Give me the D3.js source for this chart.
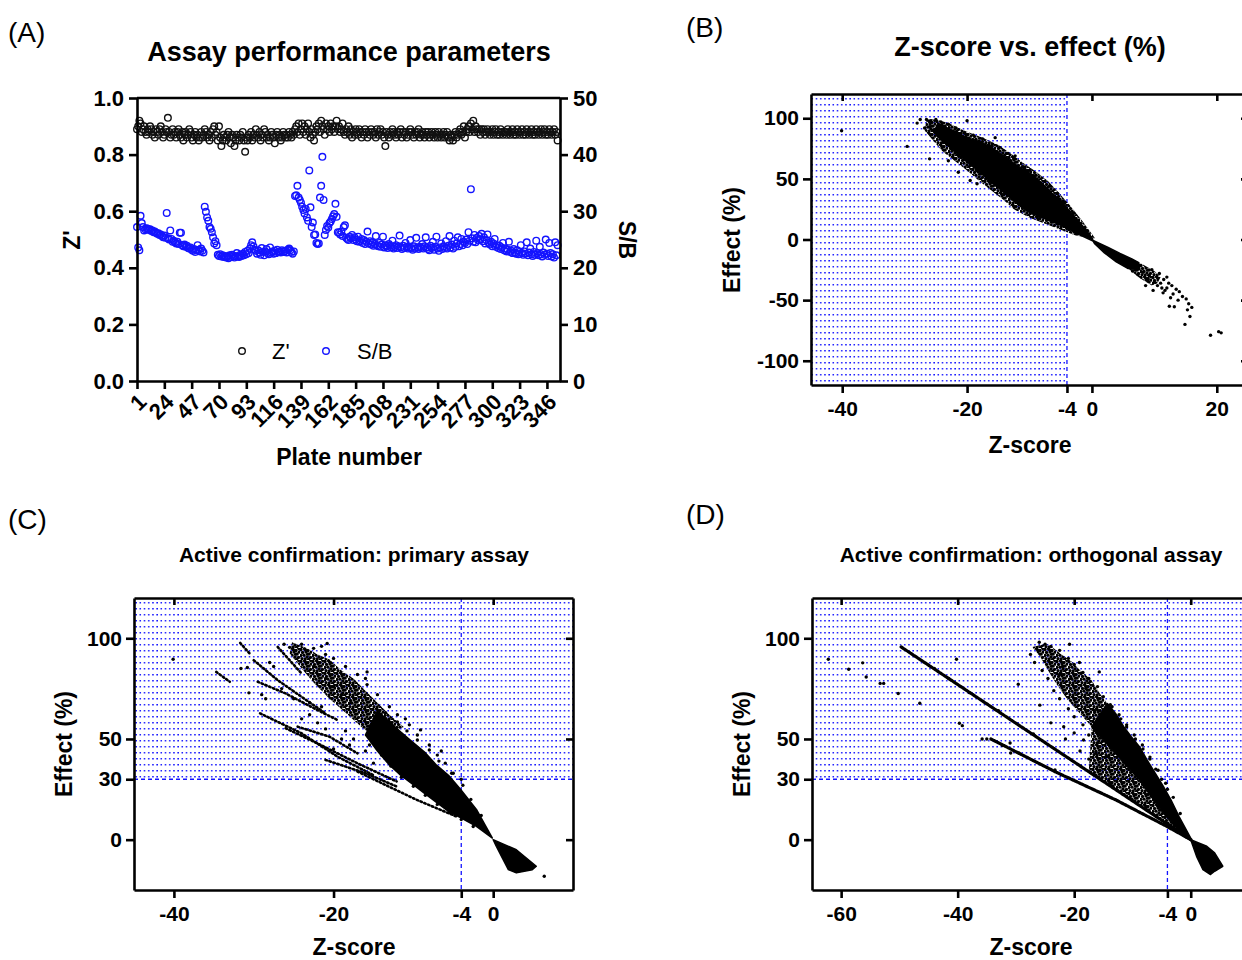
<!DOCTYPE html>
<html>
<head>
<meta charset="utf-8">
<script src="https://d3js.org/d3.v7.min.js"></script>
<style>
  body { margin: 0; background: #fff; }
  svg text { font-family: "Liberation Sans", Arial, sans-serif; fill: #000; }
</style>
</head>
<body>
<svg id="fig" width="1242" height="960"></svg>
<script>
// ---------- data: panel A (per plate) ----------
const zPrime = [
  .89,.90,.92,.91,.88,.89,.90,.88,.87,.89, .88,.90,.89,.87,.88,.86,.89,.88,.87,.89,
  .90,.88,.86,.87,.89,.88,.93,.88,.86,.87, .89,.87,.88,.86,.88,.89,.87,.86,.88,.85,
  .87,.88,.86,.87,.89,.88,.86,.85,.87,.88, .86,.87,.85,.86,.88,.86,.87,.89,.88,.86,
  .87,.85,.88,.86,.89,.90,.87,.88,.85,.90, .86,.83,.85,.87,.86,.85,.87,.88,.86,.84,
  .87,.86,.83,.85,.87,.86,.85,.87,.86,.88, .85,.81,.86,.85,.87,.86,.88,.85,.87,.86,
  .89,.87,.86,.88,.85,.87,.86,.89,.88,.86, .87,.85,.86,.88,.87,.86,.84,.87,.88,.86,
  .87,.85,.86,.88,.87,.86,.87,.86,.88,.87, .86,.88,.87,.89,.90,.88,.91,.87,.89,.91,
  .88,.90,.87,.89,.91,.88,.86,.89,.87,.85, .88,.90,.89,.91,.88,.92,.90,.89,.87,.91,
  .89,.90,.88,.91,.89,.90,.88,.90,.92,.89, .90,.88,.89,.91,.88,.87,.89,.88,.90,.87,
  .89,.86,.88,.87,.89,.88,.87,.89,.88,.86, .88,.87,.89,.88,.86,.88,.87,.89,.88,.87,
  .88,.86,.89,.87,.88,.89,.87,.88,.86,.83, .88,.87,.86,.88,.87,.89,.88,.87,.86,.88,
  .87,.88,.89,.86,.88,.87,.88,.86,.87,.88, .89,.88,.87,.86,.88,.87,.88,.89,.86,.87,
  .88,.87,.86,.88,.87,.88,.86,.87,.88,.87, .86,.88,.87,.86,.88,.87,.86,.87,.88,.86,
  .87,.88,.86,.85,.87,.86,.85,.87,.88,.86, .87,.88,.89,.87,.88,.90,.86,.88,.89,.90,
  .88,.91,.89,.92,.88,.90,.89,.88,.89,.87, .89,.88,.89,.87,.88,.89,.88,.87,.88,.89,
  .87,.88,.89,.87,.88,.87,.89,.88,.87,.88, .88,.87,.89,.88,.87,.88,.89,.87,.88,.87,
  .89,.88,.87,.88,.89,.87,.88,.87,.89,.88, .87,.88,.89,.87,.88,.87,.89,.88,.87,.88,
  .89,.87,.88,.89,.87,.88,.87,.89,.88,.87, .88,.89,.87,.88,.85
];
const sbRatio = [
  27.2,23.6,23.1,29.2,27.9,27.2,26.6,26.8,
  27.0,26.9,26.7,26.8,26.5,26.6,26.3,26.4,26.2,26.0, 26.1,25.8,25.9,25.6,25.4,25.7,25.3,29.7,25.2,25.0,
  26.6,25.1,24.6,24.8,24.5,24.3,24.6,24.2,26.2,26.2, 24.0,23.8,24.1,23.7,23.9,23.5,23.4,23.6,23.2,23.0,
  23.3,22.8,23.1,24.0,23.2,22.9,23.4,23.0,22.7,
  30.8,29.9,28.9,28.3,27.2,26.9,26.3,25.4,24.3,24.7,24.0,
  22.3,22.1,22.4,22.0,22.2,21.9,22.1,21.8,22.0,21.7, 22.2,21.9,22.3,22.0,21.8,22.1,22.6,22.0,21.9,22.3,
  22.1,22.5,22.2,22.8,22.4,23.0,22.6,23.4,24.0,24.5, 23.8,23.2,23.0,22.5,23.1,22.7,22.3,23.5,22.8,22.2,
  22.9,23.3,22.6,22.4,23.6,22.7,22.9,22.5,23.0,22.6, 23.2,22.8,22.9,22.7,23.1,22.8,22.9,23.0,22.7,23.2,
  23.4,23.1,22.8,22.5,22.9,
  32.7,32.8,34.5,32.4,32.0,31.5,30.8,30.2,29.6,30.4, 28.9,28.3,37.2,30.7,27.2,28.0,25.8,25.9,24.4,24.2,
  24.3,32.4,34.5,39.6,32.0,25.8,26.7,27.4,27.1,27.9, 28.2,28.6,29.1,29.5,31.3,29.0,26.3,26.2,25.9,26.4,
  25.6,27.2,27.5,25.3,25.1,24.9,25.5,
  25.2,25.8,24.9,25.4,25.0,24.7,25.5,24.6,24.8,25.1, 24.4,24.9,24.2,24.6,26.4,24.3,24.7,24.1,24.5,23.9,
  24.2,25.6,24.0,23.8,24.4,23.7,24.1,25.5,23.6,24.0, 23.8,23.5,24.2,23.9,23.6,24.8,23.4,23.7,24.0,23.5,
  23.8,25.7,23.6,23.3,23.9,23.5,24.4,23.7,23.4,23.6, 24.9,23.5,23.2,23.8,23.4,25.3,23.6,23.3,23.7,23.5,
  24.2,23.4,23.8,25.4,23.6,23.3,23.1,23.9,23.5,24.6, 23.2,23.7,25.5,23.4,23.0,23.6,24.3,23.3,23.8,23.5,
  24.7,23.4,23.9,25.6,23.6,24.1,23.4,24.8,23.7,24.3, 25.4,23.8,24.2,25.1,24.0,24.6,24.4,25.0,24.2,26.3,
  24.8,33.9,25.2,24.6,25.8,24.5,25.3,24.9,25.6,25.0, 26.0,24.7,25.4,24.3,24.9,25.9,24.4,24.1,24.6,23.8,
  24.3,25.1,23.7,24.0,23.5,23.9,23.3,23.6,24.4,23.1, 23.4,22.9,23.2,24.6,22.8,23.0,22.6,23.3,22.7,22.5,
  23.1,22.4,22.8,24.0,22.6,22.3,22.9,22.5,24.5,22.2, 22.7,23.4,22.4,22.1,22.8,22.3,24.8,22.6,22.2,23.7,
  22.4,22.0,22.7,22.3,25.0,22.5,22.1,24.4,22.6,22.0, 22.4,21.8,24.5,22.2,24.0
];
const plateTicks = [1,24,47,70,93,116,139,162,185,208,231,254,277,300,323,346];
const zTicks = [0,0.2,0.4,0.6,0.8,1.0];
const sbTicks = [0,10,20,30,40,50];

// ---------- data: panel B (Z-score, effect %) ----------
const bSpeckle = [
  [[-26.5,99],[-25,99],[-23,96],[-20.5,90],[-17.5,84],[-15,78],[-13,71],[-11,63],[-9,56],[-7,48],[-5.2,38],[-3.5,28],
   [-1.5,15],[0.5,1],[-2.5,3],[-5,8],[-7.5,13],[-10,18],[-12.5,25],[-14,32],[-16,40],[-18,48],[-20,57],[-22,65],
   [-24,73],[-25.5,82],[-26.8,90]],
  [[6.4,-16],[8.3,-21],[10,-26],[11,-31],[10.5,-36],[9.6,-38],[7.7,-32],[6,-25]]
];
const bSolid = [
  [[-24.7,95.8],[-22.8,91.1],[-20.2,84.3],[-17.7,80.2],[-15.8,74.7],[-13.9,67.9],[-12,61],[-9.4,52.8],[-8.2,47.3],
   [-6.3,37.8],[-5,32.3],[-3.7,24.1],[-1.8,13.1],[0.1,0.8],[0.1,-1.1],[-2.4,4.9],[-4.4,10.4],[-6.3,14.5],[-8.2,18.6],
   [-10.1,22.7],[-11.3,26.8],[-12.6,32.3],[-14.5,40.5],[-16.4,48.7],[-18.3,56.9],[-20.2,65.1],[-22.1,73.3],[-24,81.6],[-25.3,88.4]],
  [[0.1,-0.5],[2.6,-6.6],[4.5,-11.5],[6.4,-16],[7.5,-19],[7.7,-25],[5.8,-24],[3.9,-18.5],[2,-11],[0.4,-3.3]]
];
const bPoints = [
  [-40.1,89.7],[-29.6,76.8],[-26,66.5],[-21.4,55.5],[-19.5,48.7],[-18.4,46],[-15.5,84],[-12.3,69],[-27.5,99],[-28,96],
  [-20,98],[-26.8,92],[-8.5,39],[-10,47],[-23,65],[-17,50],[-16.5,48],
  [-26.5,99],[-25.8,98],[-25,99],[-24.2,97],[-23,95],[-21.8,92],[-20.5,88],[-19,86],[-17.5,83],[-16,78],[-14.8,76],
  [-13.5,71],[-12.5,66],[-11,60],[-10,57],[-9,53],[-7.5,48],[-6.8,44],[-5.5,38],[-4.5,31],[-3,22],
  [-26,93],[-25.5,90],[-24.8,86],[-23.8,80],[-22.5,75],[-21.5,70],[-20.5,66],[-19.5,61],[-18.5,57],[-17.2,53],
  [-16.5,50],[-15.5,45],[-14.2,42],[-13.5,37],[-12.5,34],[-11.5,29],[-10.5,25],[-9.5,22],[-8.5,20],[-7,17],[-5.5,13],
  [-4,10],[-2.5,6],
  [10.8,-28],[11.5,-33],[12,-31],[12.3,-36],[11.2,-40],[12.8,-38],[13.5,-41],[13,-45],[14,-43],[14.5,-47],[13.8,-50],
  [15.1,-49],[12.6,-48],[11.4,-44],[10.5,-38],[9.8,-42],[15.5,-53],[15.3,-58],[14.9,-70],[15.7,-63.5],[12.4,-55],
  [13.2,-55.5],[10,-35],[9.2,-30],[11.7,-42],[8.6,-38],[16,-56],[19,-79],[20.7,-77],[20.3,-76],[9.6,-25],
  [8.2,-27],[9,-33],[7.4,-29],[6.5,-26],[11,-36],[12,-40]
];

// ---------- data: panel C ----------
const cSpeckle = [
  [[-25.2,98],[-23.3,95],[-22,92],[-20.5,89.5],[-19,84],[-17.5,80],[-16,74],[-14.5,68],[-13,62],[-11.2,56],
   [-14.5,50],[-16.5,56],[-18.5,63],[-20.5,70],[-22.5,78],[-24,85],[-25.5,92.4]]
];
const cSolid = [
  [[-14.5,64],[-12.6,57],[-11.6,53.5],[-10.1,48.5],[-8.6,43.5],[-7.1,37],[-5.6,32],[-4.1,25],[-2.1,15],[-0.1,0.8],
   [-2.1,6.6],[-4.1,11],[-5.6,14],[-7.1,18.5],[-8.6,23],[-10.1,27.5],[-11.6,32],[-13.1,37.5],[-14.5,44],[-16,52]],
  [[0,0],[2.9,-5],[5.4,-13.2],[4.9,-14.9],[2.9,-16.5],[1.9,-14.9],[0.4,-3.3]]
];
const cStreaks = [
  [[-26,55.3],[-22,47.8],[-17,37.9],[-12.1,28.9]],
  [[-29.2,62.7],[-24,52.8],[-19.5,41.2],[-15,32]],
  [[-29.5,78.4],[-26,72.6],[-22,64.3],[-19.5,59.4]],
  [[-30,89.1],[-27,79.2],[-24,70.9],[-21,62.7]],
  [[-34.7,83.3],[-33,78.4]],
  [[-31.7,97.7],[-30.5,92.4]],
  [[-27,95.7],[-25.5,89.1],[-24,82.5]],
  [[-24.5,56.1],[-20.5,51.1],[-17,42.9]],
  [[-21,39.6],[-16,33],[-12.1,26.4]],
  [[-17,33.8],[-9.6,19.8],[-4.6,11.5]]
];
const cPoints = [
  [-40.1,89.6],[-20.8,97.4],[-15.8,83.3],[-9.1,54.5],[6.4,-18.2],[-30.6,72.9],[-31.6,85],[-30.8,85.5],
  [-24,97],[-22.5,95],[-21,92],[-20,90],[-18.5,86],[-17,82],[-15.8,77],[-14.5,72],[-13,66],[-12,62],[-10.5,57],
  [-9.5,52],[-8,47],[-7,42],[-6,38],[-5,33],[-21.5,96],[-16,80],[-11,60],[-6.5,44],[-4,30],
  [-28,88],[-27.5,86],[-26.5,75],[-25,70],[-23,62],[-22,58],[-21,55],[-19,50],[-18,47],[-16,44],[-29,72],[-28.5,70],
  [-24,60],[-20,45],[-15,38],[-26.2,97],[-25.5,95.5],[-23,68],[-21.5,66],[-18.5,54],[-17.5,50],[-13.5,43],
  [-12.5,40],[-20,76],[-19,72],[-17.8,68],[-22.5,86],[-21,80],
  [-15.5,47],[-14,42],[-12.8,36.5],[-11.5,31],[-10,26.5],[-8.5,22],[-7,17.5],[-5.5,13.5],[-4,10],[-2.5,6.5],
  [-13.5,63],[-12,58.5],[-10.8,54],[-9.5,49.5],[-8,44.5],[-6.8,39],[-5.2,33],[-3.8,27],[-2.8,20],[-1.5,12]
];

// ---------- data: panel D ----------
const dSpeckle = [
  [[-24.8,97.3],[-23.8,95.7],[-22.4,92.4],[-20.4,88.3],[-19,84.1],[-17,79.2],[-15.6,72.6],[-14.3,67.6],[-12.9,62.7],
   [-17,56.1],[-19,62.7],[-21.1,69.3],[-23.1,77.5],[-24.5,84.1],[-25.8,90.7],[-27.2,95.7]],
  [[-17,56.1],[-15,49.5],[-12.9,42.9],[-10.9,36.3],[-8.8,29.7],[-6.8,21.4],[-4.7,13.2],[-2.7,6.6],[-0.5,0.5],
   [-6,11.6],[-10,19.3],[-14,27],[-17.5,34]]
];
const dSolid = [
  [[-14.3,67.6],[-12.9,62.7],[-11.5,56.1],[-10.2,51.1],[-8.8,46.2],[-7.5,39.6],[-6.1,33],[-4.7,26.4],[-3.4,19.8],
   [-2,11.5],[0,0.8],[-0.7,0.8],[-2.7,6.6],[-4.7,13.2],[-6.8,21.4],[-8.8,29.7],[-10.9,36.3],[-12.9,42.9],[-15,49.5],
   [-17,56.1]],
  [[0,0],[2.75,-3.3],[4.1,-6.6],[5.5,-13.2],[4.1,-15.7],[3.4,-17.3],[2.1,-14.9],[1,-8.3]]
];
const dStreaks = [
  [[-49.7,95.7],[-19.7,38],[0,0]],
  [[-34.3,50],[-23.1,33.5],[-12.9,19.8],[-4.1,6.6],[0,0]]
];
const dPoints = [
  [-62.2,89.6],[-58.7,84.6],[-56.3,87.8],[-55.7,80.8],[-53.3,77.6],[-52.7,77.6],[-50.2,72.6],[-46.5,67.7],
  [-40.2,89.6],[-39.7,57.8],[-39.2,56.6],[-35.8,50],[-35,50],[-32.3,46.7],[-31,48],[-29.6,77.2],[-30.9,43],[-29.5,43],
  [-25.9,66.8],[-20.8,97],[-19.1,88],[-15.7,83.3],[-23.3,34.6],
  [-26,98],[-25,97],[-24,96],[-22.5,94],[-21,90],[-20,87],[-18.5,83],[-17.5,80],[-16,76],[-15,71],[-13.5,66],[-12,60],
  [-11,56],[-9.5,50],[-8.2,45],[-7,40],[-6,35],[-5,30],[-4,25],
  [-27.5,92],[-26.8,88],[-25.5,84],[-24.5,80],[-23.5,74],[-22.5,70],[-21,65],[-20,61],[-18.5,57],[-17.5,52],[-16,48],
  [-22,86],[-20.5,80],[-18,75],[-22.5,82],[-16.5,64],[-21.5,50],[-19,44],[-17.5,40],[-24,58],[-20,53],
  [-16.3,42.9],[-14.3,41.2],[-15.6,34.6],[-18.4,49.5],[-21.8,56.1],[-13.6,28],
  [-44,85],[-41.5,80],[-38,73],[-33,64],[-27,52.5],
  [-13.8,67],[-12.3,62],[-11,57],[-9.7,52],[-8.3,47],[-7,41],[-5.6,34.5],[-4.3,28],[-3,21],[-1.8,13]
];

// ---------- drawing ----------
const svg = d3.select("#fig");
svg.append("rect").attr("width", 1242).attr("height", 960).attr("fill", "#fff");
const defs = svg.append("defs");

const blue = "#1414ff";
const dots = defs.append("pattern").attr("id", "bluedots").attr("patternUnits", "userSpaceOnUse")
  .attr("width", 4.2).attr("height", 6);
dots.append("rect").attr("x", 1).attr("y", 2).attr("width", 1.5).attr("height", 1.5).attr("fill", blue);

// irregular dot texture for the looser parts of the clouds
const speck = defs.append("pattern").attr("id", "speckle").attr("patternUnits", "userSpaceOnUse")
  .attr("width", 12).attr("height", 12);
[[1,1.5],[4.5,0.8],[8,2.5],[10.8,0.6],[2.5,4.5],[6,4],[9.2,6],[11.3,4],[0.8,7.5],[4,7.2],[7,8.8],[5.5,1.8],
 [10.5,9.5],[2,10.6],[5.2,10.8],[8.6,11.2],[7.6,6.2]].forEach(p =>
  speck.append("circle").attr("cx", p[0]).attr("cy", p[1]).attr("r", 1.65).attr("fill", "#000"));

function styleAxis(sel, fs) {
  sel.attr("font-size", null).attr("font-family", null);
  sel.select(".domain").attr("stroke", "#000").attr("stroke-width", 2.6);
  sel.selectAll(".tick line").attr("stroke", "#000").attr("stroke-width", 2.6);
  sel.selectAll(".tick text").style("font-size", fs + "px").style("font-weight", "bold");
  return sel;
}

function label(txt, x, y, size, opts = {}) {
  const t = svg.append("text").attr("x", x).attr("y", y).text(txt)
    .style("font-size", size + "px")
    .style("font-weight", opts.bold === false ? "normal" : "bold")
    .attr("text-anchor", opts.anchor || "middle");
  if (opts.rotate) t.attr("transform", `rotate(${opts.rotate},${x},${y})`).attr("dominant-baseline", "central");
  return t;
}

// ----- panel A -----
const A = { l: 137, r: 560, t: 98, b: 381 };
const xA = d3.scaleLinear().domain([1, 357]).range([A.l, A.r]);
const yZ = d3.scaleLinear().domain([0, 1]).range([A.b, A.t]);
const ySB = d3.scaleLinear().domain([0, 50]).range([A.b, A.t]);

const gA = svg.append("g");
gA.selectAll("circle.sb").data(sbRatio).join("circle").attr("class", "sb")
  .attr("cx", (d, i) => xA(i + 1)).attr("cy", d => ySB(d)).attr("r", 3.3)
  .attr("fill", "none").attr("stroke", blue).attr("stroke-width", 1.4);
gA.selectAll("circle.zp").data(zPrime).join("circle").attr("class", "zp")
  .attr("cx", (d, i) => xA(i + 1)).attr("cy", d => yZ(d)).attr("r", 3.3)
  .attr("fill", "none").attr("stroke", "#111").attr("stroke-width", 1.4);

gA.append("line").attr("x1", A.l).attr("x2", A.r).attr("y1", A.t).attr("y2", A.t)
  .attr("stroke", "#000").attr("stroke-width", 2.6);
styleAxis(gA.append("g").attr("transform", `translate(${A.l},0)`)
  .call(d3.axisLeft(yZ).tickValues(zTicks).tickFormat(d3.format(".1f")).tickSize(8).tickSizeOuter(0).tickPadding(5)), 22);
styleAxis(gA.append("g").attr("transform", `translate(${A.r},0)`)
  .call(d3.axisRight(ySB).tickValues(sbTicks).tickFormat(d => d).tickSize(8).tickSizeOuter(0).tickPadding(5)), 22);
const bxA = styleAxis(gA.append("g").attr("transform", `translate(0,${A.b})`)
  .call(d3.axisBottom(xA).tickValues(plateTicks).tickFormat(d => d).tickSize(8).tickSizeOuter(0)), 22);
bxA.selectAll(".tick text").attr("x", 0).attr("y", 0).attr("dy", "0.35em")
  .attr("text-anchor", "end").attr("transform", "translate(5,17) rotate(-45)");

// legend
gA.append("circle").attr("cx", 242).attr("cy", 351).attr("r", 3.3).attr("fill", "none").attr("stroke", "#111").attr("stroke-width", 1.4);
gA.append("circle").attr("cx", 326).attr("cy", 351).attr("r", 3.3).attr("fill", "none").attr("stroke", blue).attr("stroke-width", 1.4);
label("Z'", 272, 359, 22, { anchor: "start", bold: false });
label("S/B", 357, 359, 22, { anchor: "start", bold: false });

label("(A)", 8, 42, 28, { anchor: "start", bold: false });
label("Assay performance parameters", 349, 61, 27);
label("Z'", 72, 240, 23, { rotate: -90 });
label("S/B", 627, 240, 23, { rotate: 90 });
label("Plate number", 349, 465, 23);

// ----- scatter panels -----
function scatterPanel(cfg) {
  const g = svg.append("g");
  const x = d3.scaleLinear().domain(cfg.xDomain).range([cfg.l, cfg.r]);
  const y = d3.scaleLinear().domain(cfg.yDomain).range([cfg.b, cfg.t]);
  const clipId = "clip" + cfg.name;
  defs.append("clipPath").attr("id", clipId).append("rect")
    .attr("x", cfg.l).attr("y", cfg.t).attr("width", cfg.r - cfg.l).attr("height", cfg.b - cfg.t);
  const plot = g.append("g").attr("clip-path", `url(#${clipId})`);

  // hit region shading
  if (cfg.hitX != null)
    plot.append("rect").attr("x", cfg.l).attr("y", cfg.t).attr("width", x(cfg.hitX) - cfg.l)
      .attr("height", cfg.b - cfg.t).attr("fill", "url(#bluedots)");
  if (cfg.hitY != null)
    plot.append("rect").attr("x", cfg.l).attr("y", cfg.t).attr("width", cfg.r - cfg.l)
      .attr("height", y(cfg.hitY) - cfg.t).attr("fill", "url(#bluedots)");

  // threshold lines
  plot.append("line").attr("x1", x(cfg.zCut)).attr("x2", x(cfg.zCut)).attr("y1", cfg.t).attr("y2", cfg.b)
    .attr("stroke", blue).attr("stroke-width", 1.3).attr("stroke-dasharray", "4,3");
  if (cfg.hitY != null)
    plot.append("line").attr("x1", cfg.l).attr("x2", cfg.r).attr("y1", y(cfg.hitY)).attr("y2", y(cfg.hitY))
      .attr("stroke", blue).attr("stroke-width", 1.3).attr("stroke-dasharray", "4,3");

  const closed = d3.line().x(d => x(d[0])).y(d => y(d[1])).curve(d3.curveLinearClosed);
  const open = d3.line().x(d => x(d[0])).y(d => y(d[1]));
  (cfg.speckle || []).forEach(p => plot.append("path").attr("d", closed(p)).attr("fill", "url(#speckle)"));
  cfg.solid.forEach(p => plot.append("path").attr("d", closed(p)).attr("fill", "#000")
    .attr("stroke", "#000").attr("stroke-width", 1.5).attr("stroke-linejoin", "round"));
  (cfg.streaks || []).forEach((p, i) => plot.append("path").attr("d", open(p)).attr("fill", "none")
    .attr("stroke", "#000").attr("stroke-width", cfg.streakWidth || 2.6).attr("stroke-linecap", "round")
    .attr("stroke-dasharray", cfg.streakDash || "1.5,2.6"));
  plot.selectAll("circle.pt").data(cfg.points).join("circle").attr("class", "pt")
    .attr("cx", d => x(d[0])).attr("cy", d => y(d[1])).attr("r", 1.7).attr("fill", "#000");

  // frame and axes
  styleAxis(g.append("g").attr("transform", `translate(0,${cfg.t})`)
    .call(d3.axisTop(x).tickValues(cfg.xTopTicks).tickSizeInner(-7).tickSizeOuter(0).tickFormat("")), 21);
  styleAxis(g.append("g").attr("transform", `translate(${cfg.r},0)`)
    .call(d3.axisRight(y).tickValues(cfg.yRightTicks).tickSizeInner(-7).tickSizeOuter(0).tickFormat("")), 21);
  styleAxis(g.append("g").attr("transform", `translate(${cfg.l},0)`)
    .call(d3.axisLeft(y).tickValues(cfg.yTicks).tickFormat(d => d).tickSize(8).tickSizeOuter(0).tickPadding(4)), 21);
  styleAxis(g.append("g").attr("transform", `translate(0,${cfg.b})`)
    .call(d3.axisBottom(x).tickValues(cfg.xTicks).tickFormat(d => d).tickSize(8).tickSizeOuter(0).tickPadding(8)), 21);
}

scatterPanel({
  name: "B", l: 811, r: 1248, t: 94, b: 385, xDomain: [-45, 25], yDomain: [-120, 120],
  xTicks: [-40, -20, -4, 0, 20], xTopTicks: [-40, -20, 0, 20],
  yTicks: [-100, -50, 0, 50, 100], yRightTicks: [-100, -50, 0, 50, 100],
  hitX: -4, zCut: -4, speckle: bSpeckle, solid: bSolid, points: bPoints
});
scatterPanel({
  name: "C", l: 134, r: 573, t: 598, b: 890, xDomain: [-45, 10], yDomain: [-25, 120],
  xTicks: [-40, -20, -4, 0], xTopTicks: [-40, -20, 0],
  yTicks: [0, 30, 50, 100], yRightTicks: [0, 50, 100],
  hitY: 30, zCut: -4, speckle: cSpeckle, solid: cSolid, streaks: cStreaks, points: cPoints
});
scatterPanel({
  name: "D", l: 812, r: 1249, t: 598, b: 890, xDomain: [-65, 10], yDomain: [-25, 120],
  xTicks: [-60, -40, -20, -4, 0], xTopTicks: [-60, -40, -20, 0],
  yTicks: [0, 30, 50, 100], yRightTicks: [0, 50, 100],
  hitY: 30, zCut: -4, speckle: dSpeckle, solid: dSolid, streaks: dStreaks, points: dPoints,
  streakWidth: 3.2, streakDash: "2.5,1.4"
});

label("(B)", 686, 37, 28, { anchor: "start", bold: false });
label("Z-score vs. effect (%)", 1030, 56, 27);
label("Effect (%)", 732, 240, 23, { rotate: -90 });
label("Z-score", 1030, 453, 23);

label("(C)", 8, 529, 28, { anchor: "start", bold: false });
label("Active confirmation: primary assay", 354, 562, 21);
label("Effect (%)", 64, 744, 23, { rotate: -90 });
label("Z-score", 354, 955, 23);

label("(D)", 686, 524, 28, { anchor: "start", bold: false });
label("Active confirmation: orthogonal assay", 1031, 562, 21);
label("Effect (%)", 742, 744, 23, { rotate: -90 });
label("Z-score", 1031, 955, 23);
</script>
</body>
</html>
